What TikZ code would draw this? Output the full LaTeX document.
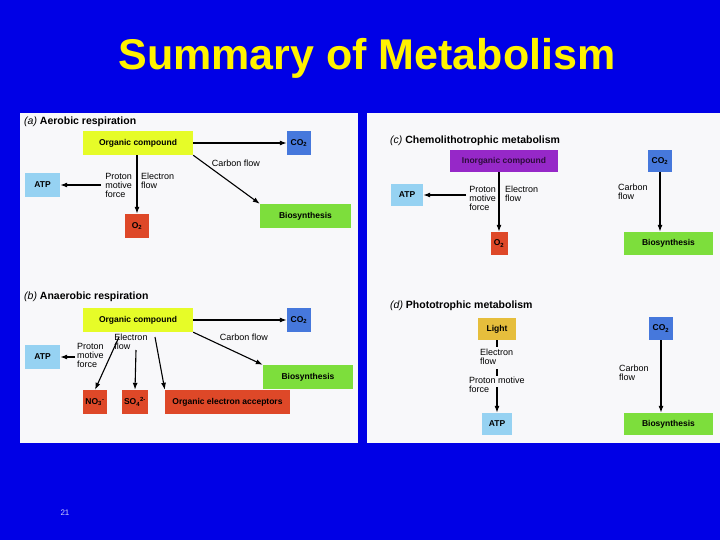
\documentclass[tikz,border=0pt]{standalone}
\usepackage{fontspec}
\setmainfont{Liberation Sans}
\usetikzlibrary{arrows.meta}
\begin{document}
\begin{tikzpicture}[x=1pt,y=-1pt,
 bx/.style={inner sep=0pt,font=\fontsize{8.5}{9}\selectfont\bfseries,align=center},
 lb/.style={inner sep=0pt,font=\fontsize{9}{9}\selectfont,align=left},
 ttl/.style={inner sep=0pt,anchor=west,font=\fontsize{10.5}{11}\selectfont\bfseries},
 ar/.style={-{Latex[length=7pt,width=5pt]},line width=1.1pt},
 ln/.style={line width=1.1pt}]
\definecolor{bg}{RGB}{0,0,230}
\definecolor{pan}{RGB}{248,248,250}
\definecolor{cy}{RGB}{230,252,40}
\definecolor{cb}{RGB}{70,120,220}
\definecolor{ca}{RGB}{150,210,242}
\definecolor{cr}{RGB}{222,72,40}
\definecolor{cg}{RGB}{125,222,60}
\definecolor{cp}{RGB}{150,40,200}
\definecolor{cl}{RGB}{230,190,60}
\fill[bg] (0,0) rectangle (720,540);
\useasboundingbox (0,0) rectangle (720,540);
\fill[pan] (20,113) rectangle (358,443);
\fill[pan] (367,113) rectangle (720,443);
\node[text=yellow,font=\fontsize{43}{44}\selectfont\bfseries] (title) at (367,58) {Summary of Metabolism};
\node[text=white!80!bg,font=\fontsize{8}{8}\selectfont] (pg) at (65,513) {21};
% (a)
\node[ttl] (ta) at (24,122) {\textmd{\textit{(a)}} Aerobic respiration};
\node[bx,fill=cy,minimum width=110,minimum height=24] (oa) at (138,143) {Organic compound};
\node[bx,fill=cb,minimum width=24,minimum height=24] (ca) at (299,143) {CO\textsubscript{2}};
\node[bx,fill=ca,minimum width=35,minimum height=24] (aa) at (42.5,185) {ATP};
\node[bx,fill=cr,minimum width=24,minimum height=24] (xa) at (137,226) {O\textsubscript{2}};
\node[bx,fill=cg,minimum width=91,minimum height=24] (ba) at (305.5,216) {Biosynthesis};
\draw[ar] (oa.east) -- (ca.west);
\draw[ar] (oa.south east) -- (ba.north west);
\node[lb] (cfa) at (236,163) {Carbon flow};
\draw[ar] (oa.south -| xa) -- (xa.north);
\node[lb,anchor=north east] (pma) at (132,173) {Proton\\motive\\force};
\node[lb,anchor=north west] (efa) at (141,173) {Electron\\flow};
\coordinate (pa) at (101,185);
\draw[ar] (pa) -- (aa.east);
% (b)
\node[ttl] (tb) at (24,297) {\textmd{\textit{(b)}} Anaerobic respiration};
\node[bx,fill=cy,minimum width=110,minimum height=24] (ob) at (138,320) {Organic compound};
\node[bx,fill=cb,minimum width=24,minimum height=24] (cb) at (299,320) {CO\textsubscript{2}};
\node[bx,fill=ca,minimum width=35,minimum height=24] (ab) at (42.5,357) {ATP};
\node[bx,fill=cg,minimum width=90,minimum height=24] (bb) at (308,377) {Biosynthesis};
\node[bx,fill=cr,minimum width=24,minimum height=24] (nb) at (95,402) {NO\textsubscript{3}\textsuperscript{-}};
\node[bx,fill=cr,minimum width=26,minimum height=24] (sb) at (135,402) {SO\textsubscript{4}\textsuperscript{2-}};
\node[bx,fill=cr,minimum width=125,minimum height=24] (eb) at (227.5,402) {Organic electron acceptors};
\draw[ar] (ob.east) -- (cb.west);
\draw[ar] (ob.south east) -- (bb.north west);
\node[lb] (cfb) at (244,337) {Carbon flow};
\node[lb] (efb) at (131,342) {Electron\\flow};
\coordinate (e1) at (119,337);
\coordinate (e2) at (136,350);
\coordinate (e3) at (155,337);
\draw[ar] (e1) -- (nb.north);
\draw[ar] (e2) -- (sb.north);
\draw[ar] (e3) -- (eb.north west);
\node[lb,anchor=north west] (pmb) at (77,343) {Proton\\motive\\force};
\coordinate (pb) at (75,357);
\draw[ar] (pb) -- (ab.east);
% (c)
\node[ttl] (tc) at (390,141) {\textmd{\textit{(c)}} Chemolithotrophic metabolism};
\node[bx,fill=cp,text=black!70!cp,minimum width=108,minimum height=22] (ic) at (504,161) {Inorganic compound};
\node[bx,fill=cb,minimum width=24,minimum height=22] (cc) at (660,161) {CO\textsubscript{2}};
\node[bx,fill=ca,minimum width=32,minimum height=22] (ac) at (407,195) {ATP};
\node[bx,fill=cr,minimum width=17,minimum height=23] (xc) at (499,243.5) {O\textsubscript{2}};
\node[bx,fill=cg,minimum width=89,minimum height=23] (bc) at (668.5,243.5) {Biosynthesis};
\draw[ar] (ic.south -| xc) -- (xc.north);
\node[lb,anchor=north east] (pmc) at (496,186) {Proton\\motive\\force};
\node[lb,anchor=north west] (efc) at (505,186) {Electron\\flow};
\coordinate (pc) at (466,195);
\draw[ar] (pc) -- (ac.east);
\draw[ar] (cc.south) -- (bc.north -| cc);
\node[lb,anchor=north west] (cfc) at (618,184) {Carbon\\flow};
% (d)
\node[ttl] (td) at (390,306) {\textmd{\textit{(d)}} Phototrophic metabolism};
\node[bx,fill=cl,minimum width=38,minimum height=22] (ld) at (497,329) {Light};
\node[bx,fill=cb,minimum width=24,minimum height=23] (cd) at (661,328.5) {CO\textsubscript{2}};
\node[bx,fill=ca,minimum width=30,minimum height=22] (ad) at (497,424) {ATP};
\node[bx,fill=cg,minimum width=89,minimum height=22] (bd) at (668.5,424) {Biosynthesis};
\node[lb,anchor=north west] (efd) at (480,349) {Electron\\flow};
\node[lb,anchor=north west] (pmd) at (469,377) {Proton motive\\force};
\coordinate (d1) at (497,347);
\coordinate (d2) at (497,369);
\coordinate (d3) at (497,376);
\coordinate (d4) at (497,387);
\draw[ln] (ld.south) -- (d1);
\draw[ln] (d2) -- (d3);
\draw[ar] (d4) -- (ad.north);
\draw[ar] (cd.south) -- (bd.north -| cd);
\node[lb,anchor=north west] (cfd) at (619,365) {Carbon\\flow};
\end{tikzpicture}
\end{document}
